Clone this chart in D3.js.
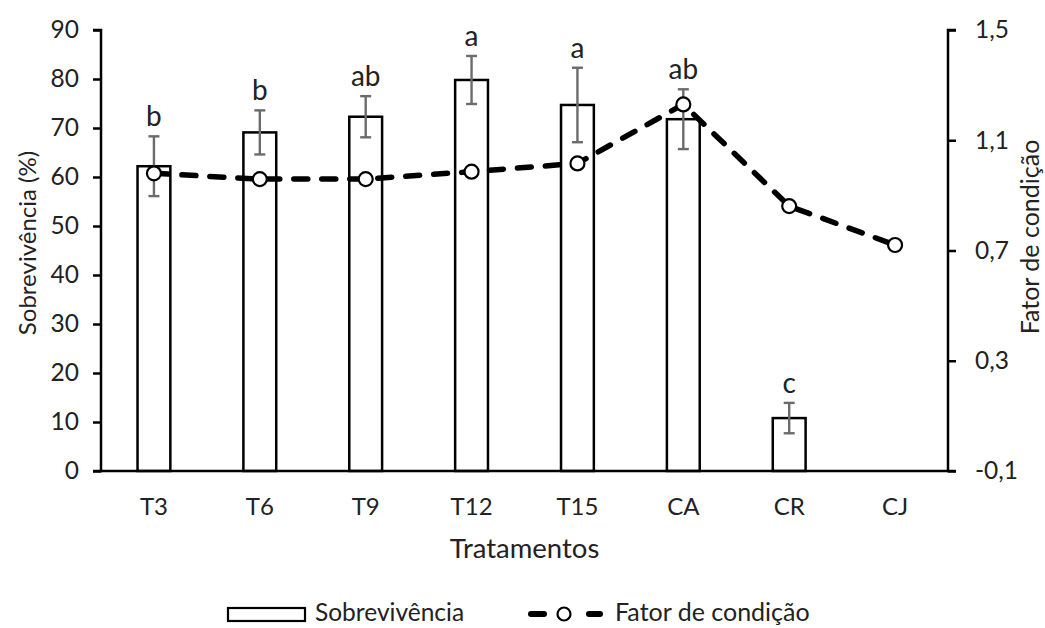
<!DOCTYPE html>
<html><head><meta charset="utf-8">
<script src="https://cdn.jsdelivr.net/npm/d3@7"></script>
<style>
body{margin:0;background:#fff;}
text{font-family:Lato,"Noto Sans",sans-serif;fill:#222;}
</style></head>
<body><svg id="chart" width="1045" height="628"></svg>
<script>
const categories = ["T3","T6","T9","T12","T15","CA","CR","CJ"];
const survival = [62.2, 69.1, 72.3, 79.8, 74.7, 71.8, 10.8, null];
const survivalErr = [6.1, 4.5, 4.2, 4.9, 7.6, 6.1, 3.1, null];
const letters = ["b","b","ab","a","a","ab","c",""];
const condition = [0.980, 0.959, 0.959, 0.986, 1.016, 1.230, 0.861, 0.720];
const leftTicks = [0,10,20,30,40,50,60,70,80,90];
const rightTicks = [-0.1,0.3,0.7,1.1,1.5];

const svg = d3.select("#chart");
const L = 101, R = 948, T = 30, B = 471;

const x = d3.scaleBand().domain(categories).range([L, R]).paddingInner(0).paddingOuter(0);
const y = d3.scaleLinear().domain([0, 90]).range([B, T]);
const y2 = d3.scaleLinear().domain([-0.1, 1.5]).range([B, T]);
const barW = x.bandwidth() * 0.31;
const cxOf = c => x(c) + x.bandwidth()/2;

const data = categories.map((c,i)=>({c, v:survival[i], e:survivalErr[i], l:letters[i], k:condition[i]}));
const barData = data.filter(d=>d.v!=null);

// bars
svg.append("g").selectAll("rect").data(barData).join("rect")
  .attr("x", d=>cxOf(d.c)-barW/2)
  .attr("y", d=>y(d.v))
  .attr("width", barW)
  .attr("height", d=>y(0)-y(d.v))
  .attr("fill","#fff").attr("stroke","#000").attr("stroke-width",2.5);

// error bars
const eg = svg.append("g").attr("stroke","#6b6b6b").attr("stroke-width",2.4);
barData.forEach(d=>{
  const cx = cxOf(d.c);
  eg.append("line").attr("x1",cx).attr("x2",cx).attr("y1",y(d.v+d.e)).attr("y2",y(d.v-d.e));
  eg.append("line").attr("x1",cx-5.5).attr("x2",cx+5.5).attr("y1",y(d.v+d.e)).attr("y2",y(d.v+d.e));
  eg.append("line").attr("x1",cx-5.5).attr("x2",cx+5.5).attr("y1",y(d.v-d.e)).attr("y2",y(d.v-d.e));
});

// axes
const axL = svg.append("g").attr("transform",`translate(${L},0)`)
  .call(d3.axisLeft(y).tickValues(leftTicks).tickSize(8).tickPadding(14).tickFormat(d3.format("d")));
const axR = svg.append("g").attr("transform",`translate(${R},0)`)
  .call(d3.axisRight(y2).tickValues(rightTicks).tickSize(8).tickPadding(19)
    .tickFormat(d=>d.toFixed(1).replace(".",",")));
const axB = svg.append("g").attr("transform",`translate(0,${B})`)
  .call(d3.axisBottom(x).tickSize(0).tickPadding(27));
[axL,axR].forEach(a=>a.selectAll(".tick text").attr("font-size",24.5));
axB.selectAll(".tick text").attr("font-size",24);
[axL,axR,axB].forEach(a=>{
  a.selectAll("path.domain").attr("stroke","#000").attr("stroke-width",2.5);
  a.selectAll(".tick line").attr("stroke","#000").attr("stroke-width",2.5);
  a.selectAll(".tick text").attr("fill","#222").style("font-family","Lato, sans-serif");
});
axL.select("path.domain").attr("d",`M-8,${T}H0V${B}H-8`);
axR.select("path.domain").attr("d",`M8,${T}H0V${B}H8`);
axB.select("path.domain").attr("d",`M${L},0H${R}`);

// line
const line = d3.line().x(d=>cxOf(d.c)).y(d=>y2(d.k));
svg.append("path").datum(data).attr("d",line).attr("fill","none")
  .attr("stroke","#000").attr("stroke-width",5.5).attr("stroke-dasharray","14 14").attr("stroke-linecap","round");
svg.append("g").selectAll("circle").data(data).join("circle")
  .attr("cx",d=>cxOf(d.c)).attr("cy",d=>y2(d.k)).attr("r",7)
  .attr("fill","#fff").attr("stroke","#000").attr("stroke-width",2.2);

// letters
svg.append("g").selectAll("text").data(barData).join("text")
  .attr("x",d=>cxOf(d.c)).attr("y",d=>y(d.v+d.e)-10)
  .attr("text-anchor","middle").attr("font-size",28).text(d=>d.l);

// axis titles
svg.append("text").attr("transform",`translate(36,243) rotate(-90)`)
  .attr("text-anchor","middle").attr("font-size",24).text("Sobrevivência (%)");
svg.append("text").attr("transform",`translate(1039,237) rotate(-90)`)
  .attr("text-anchor","middle").attr("font-size",25).text("Fator de condição");
svg.append("text").attr("x",(L+R)/2).attr("y",558).attr("text-anchor","middle").attr("font-size",27.5).text("Tratamentos");

// legend
const lg = svg.append("g");
lg.append("rect").attr("x",228).attr("y",608).attr("width",77).attr("height",13)
  .attr("fill","#fff").attr("stroke","#000").attr("stroke-width",2.2);
lg.append("text").attr("x",315).attr("y",621).attr("font-size",24.5).text("Sobrevivência");
lg.append("line").attr("x1",531).attr("x2",544).attr("y1",614).attr("y2",614).attr("stroke","#000").attr("stroke-width",6).attr("stroke-linecap","round");
lg.append("line").attr("x1",589).attr("x2",600).attr("y1",614).attr("y2",614).attr("stroke","#000").attr("stroke-width",6).attr("stroke-linecap","round");
lg.append("circle").attr("cx",564).attr("cy",614).attr("r",6.5).attr("fill","#fff").attr("stroke","#000").attr("stroke-width",2.2);
lg.append("text").attr("x",615).attr("y",621).attr("font-size",25).text("Fator de condição");
</script></body></html>
